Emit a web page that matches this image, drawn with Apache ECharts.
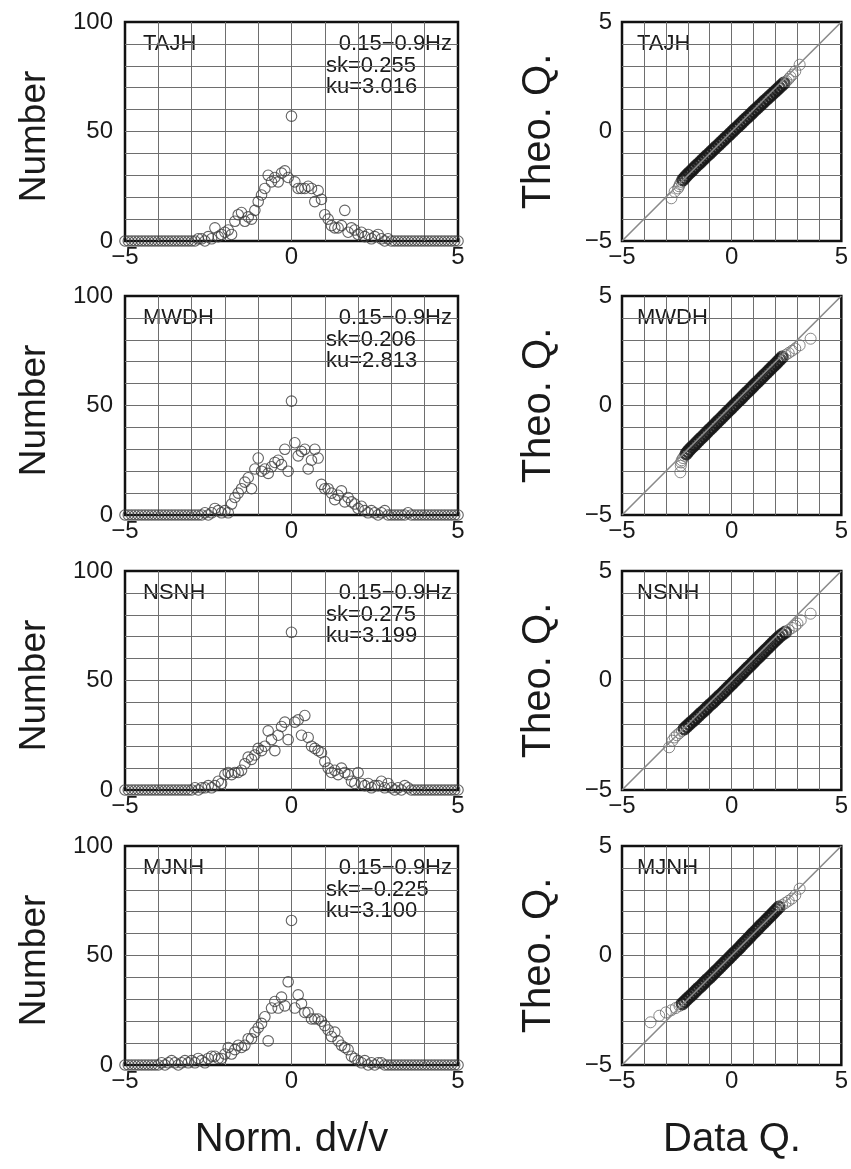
<!DOCTYPE html>
<html><head><meta charset="utf-8">
<script src="https://cdn.jsdelivr.net/npm/echarts@6/dist/echarts.min.js"></script>
<style>html,body{margin:0;padding:0;background:#fff}#c{width:851px;height:1169px}</style>
</head><body><div id="c"></div>
<script>
// ---------------- DATA ----------------
const stations = ['TAJH', 'MWDH', 'NSNH', 'MJNH'];
const bandText = '0.15\u22120.9Hz';
const skText = ['0.255', '0.206', '0.275', '\u22120.225'];
const kuText = ['3.016', '2.813', '3.199', '3.100'];

// histogram bin centres (Norm. dv/v)
const bins = [-5.0,-4.9,-4.8,-4.7,-4.6,-4.5,-4.4,-4.3,-4.2,-4.1,-4.0,-3.9,-3.8,-3.7,-3.6,-3.5,-3.4,-3.3,-3.2,-3.1,
  -3.0,-2.9,-2.8,-2.7,-2.6,-2.5,-2.4,-2.3,-2.2,-2.1,-2.0,-1.9,-1.8,-1.7,-1.6,-1.5,-1.4,-1.3,-1.2,-1.1,
  -1.0,-0.9,-0.8,-0.7,-0.6,-0.5,-0.4,-0.3,-0.2,-0.1,0.0,0.1,0.2,0.3,0.4,0.5,0.6,0.7,0.8,0.9,
  1.0,1.1,1.2,1.3,1.4,1.5,1.6,1.7,1.8,1.9,2.0,2.1,2.2,2.3,2.4,2.5,2.6,2.7,2.8,2.9,
  3.0,3.1,3.2,3.3,3.4,3.5,3.6,3.7,3.8,3.9,4.0,4.1,4.2,4.3,4.4,4.5,4.6,4.7,4.8,4.9,5.0];

const countsTAJH = [0,0,0,0,0,0,0,0,0,0,0,0,0,0,0,0,0,0,0,0,
  0,0,1,1,0,2,1,6,2,3, 4,5,3,9,12,13,9,11,10,14,
  18,21,24,30,27,29,27,31,32,29, 57,
  27,24,24,24,25,24,18,23,19,12, 10,7,6,6,7,14,4,6,5,3,
  4,2,3,1,2,3,1,0,1,0, 0,0,0,0,0,0,0,0,0,0,0,0,0,0,0,0,0,0,0,0];
const countsMWDH = [0,0,0,0,0,0,0,0,0,0,0,0,0,0,0,0,0,0,0,0,
  0,0,0,0,1,0,1,3,2,1, 2,1,5,8,10,12,15,17,12,21,
  26,20,21,19,22,24,25,23,30,20, 52,
  33,27,29,30,21,25,30,26,14,12, 12,10,7,9,11,6,8,6,5,3,
  4,2,1,2,1,0,1,2,0,0, 0,0,0,0,1,0,0,0,0,0,0,0,0,0,0,0,0,0,0,0];
const countsNSNH = [0,0,0,0,0,0,0,0,0,0,0,0,0,0,0,0,0,0,0,0,
  0,1,0,1,1,2,1,2,4,3, 7,8,7,8,8,9,12,15,14,16,
  19,18,20,27,23,18,25,29,31,23, 72,
  31,32,25,34,24,20,19,18,17,13, 10,8,9,7,10,8,7,4,3,8,
  3,2,3,1,2,2,4,1,3,1, 0,1,0,2,1,0,0,0,0,0,0,0,0,0,0,0,0,0,0,0];
const countsMJNH = [0,0,0,0,0,0,0,0,0,0,0,1,0,1,2,1,0,1,2,1,
  2,1,3,2,1,3,4,4,3,3, 5,8,5,7,9,8,9,12,12,15,
  17,19,22,11,26,29,26,31,27,38, 66,
  26,32,28,24,24,21,21,21,20,18, 16,13,15,11,9,8,7,4,3,2,
  1,2,0,1,0,1,1,0,0,0, 0,0,0,0,0,0,0,0,0,0,0,0,0,0,0,0,0,0,0,0];

// Q-Q plots: theoretical quantiles (y) and data quantiles (x)
const theoQ = [-3.05,-2.75,-2.6,-2.5,-2.4,-2.3,-2.2,-2.1,-2.0,-1.9,-1.8,-1.7,-1.6,-1.5,-1.4,-1.3,-1.2,-1.1,-1.0,-0.9,
  -0.8,-0.7,-0.6,-0.5,-0.4,-0.3,-0.2,-0.1,0.0,0.1,0.2,0.3,0.4,0.5,0.6,0.7,0.8,0.9,1.0,1.1,
  1.2,1.3,1.4,1.5,1.6,1.7,1.8,1.9,2.0,2.1,2.2,2.3,2.4,2.5,2.6,2.75,3.05];
const dataQTAJH = [-2.75,-2.6,-2.45, -2.4,-2.36,-2.3,-2.22,-2.13,-2.04,-1.94,-1.84,-1.74,-1.64,
  -1.53,-1.43,-1.33,-1.22,-1.12,-1.01,-0.91,-0.8,-0.7,-0.59, -0.49,-0.38,-0.28,-0.17,-0.07,0.04,0.14,0.25,0.35,0.46,
  0.56,0.67,0.77,0.88,0.98,1.09,1.19,1.3,1.41,1.51, 1.62,1.73,1.84,1.95,2.05,2.16,2.27,2.38,2.5,2.6, 2.68,2.78, 2.9,3.1];
const dataQMWDH = [-2.34,-2.32,-2.3, -2.28,-2.22,-2.15,-2.07,-1.99,-1.9,-1.8,-1.7,-1.6,-1.5,
  -1.4,-1.3,-1.2,-1.1,-1.0,-0.9,-0.8,-0.7,-0.6,-0.5, -0.4,-0.3,-0.2,-0.1,0.0,0.1,0.2,0.3,0.4,0.5,
  0.6,0.7,0.8,0.9,1.0,1.1,1.2,1.3,1.4,1.5, 1.6,1.7,1.8,1.9,2.0,2.1,2.2,2.3,2.45,2.6, 2.75,2.9, 3.1,3.6];
const dataQNSNH = [-2.85,-2.7,-2.6, -2.5,-2.38,-2.27,-2.16,-2.05,-1.94,-1.83,-1.72,-1.61,-1.5,
  -1.4,-1.29,-1.18,-1.08,-0.97,-0.86,-0.76,-0.65,-0.55,-0.44, -0.34,-0.24,-0.14,-0.04,0.06,0.16,0.26,0.36,0.46,0.56,
  0.66,0.76,0.86,0.96,1.06,1.16,1.26,1.36,1.46,1.56, 1.66,1.76,1.86,1.96,2.06,2.17,2.3,2.45,2.6,2.75, 2.9,3.0, 3.15,3.6];
const dataQMJNH = [-3.7,-3.3,-3.0, -2.75,-2.55,-2.38,-2.25,-2.14,-2.04,-1.93,-1.83,-1.72,-1.62,
  -1.52,-1.41,-1.31,-1.21,-1.11,-1.0,-0.9,-0.8,-0.7,-0.6, -0.5,-0.4,-0.3,-0.2,-0.1,0.0,0.1,0.2,0.3,0.4,
  0.49,0.59,0.68,0.78,0.88,0.97,1.07,1.17,1.26,1.36, 1.46,1.56,1.66,1.76,1.85,1.95,2.05,2.15,2.3,2.45, 2.6,2.75, 2.9,3.1];
const refLine = [-5, 5];

const histTicks = [0, 50, 100];
const qTicks = [-5, 0, 5];

const counts = [countsTAJH, countsMWDH, countsNSNH, countsMJNH];
const dataQ = [dataQTAJH, dataQMWDH, dataQNSNH, dataQMJNH];

// ---------------- LAYOUT ----------------
const FONT = '"Liberation Sans", Arial, Helvetica, sans-serif';
const tops = [22, 296, 571, 846];
const H = 219;
const LL = 125, LW = 333, RL = 622, RW = 220;
const TXT = '#1a1a1a';

function fmt(v) { return v < 0 ? '\u2212' + Math.abs(v) : String(v); }

const grid = [], xAxis = [], yAxis = [], series = [], graphic = [];

function axis(idx, min, max, interval, shown, margin) {
  return {
    type: 'value', gridIndex: idx, min: min, max: max, interval: interval,
    axisLine: { show: false }, axisTick: { show: false },
    splitLine: { show: true, showMinLine: false, showMaxLine: false, lineStyle: { color: '#6e6e6e', width: 1 } },
    axisLabel: { show: true, showMinLabel: true, showMaxLabel: true, margin: margin,
      fontSize: 24, fontFamily: FONT, color: TXT,
      formatter: function (v) { return shown.indexOf(v) >= 0 ? fmt(v) : ''; } }
  };
}

const coreStyle = { color: 'rgba(0,0,0,0)', borderColor: '#151515', borderWidth: 2.4 };
const tailStyle = { color: 'rgba(0,0,0,0)', borderColor: '#6a6a6a', borderWidth: 1 };

for (let p = 0; p < 4; p++) {
  const T = tops[p];
  const gi = p * 2, gq = p * 2 + 1;
  grid.push({ left: LL, top: T, width: LW, height: H, show: true, borderColor: '#111', borderWidth: 2.5, backgroundColor: 'transparent' });
  grid.push({ left: RL, top: T, width: RW, height: H, show: true, borderColor: '#111', borderWidth: 2.5, backgroundColor: 'transparent' });
  xAxis.push(axis(gi, -5, 5, 1, qTicks, 4));
  yAxis.push(axis(gi, 0, 100, 10, histTicks, 12));
  xAxis.push(axis(gq, -5, 5, 1, qTicks, 4));
  yAxis.push(axis(gq, -5, 5, 1, qTicks, 10));

  series.push({
    type: 'scatter', xAxisIndex: gi, yAxisIndex: gi, clip: false, silent: true,
    symbol: 'circle', symbolSize: 10.5,
    itemStyle: { color: 'rgba(0,0,0,0)', borderColor: '#3c3c3c', borderWidth: 1.1 },
    data: bins.map((x, i) => [x, counts[p][i]])
  });
  series.push({
    type: 'line', xAxisIndex: gq, yAxisIndex: gq, silent: true, symbol: 'none',
    lineStyle: { color: '#8a8a8a', width: 1.6 },
    data: refLine.map(v => [v, v])
  });
  series.push({
    type: 'scatter', xAxisIndex: gq, yAxisIndex: gq, clip: false, silent: true,
    symbol: 'circle', symbolSize: 11,
    data: dataQ[p].map((x, i) => ({
      value: [x, theoQ[i]],
      itemStyle: Math.abs(theoQ[i]) <= 2.2 ? coreStyle : tailStyle
    }))
  });

  const tf = '22px ' + FONT;
  graphic.push({ type: 'text', x: 143, y: T + 22, style: { text: stations[p], font: tf, fill: TXT, textAlign: 'left', textVerticalAlign: 'middle' } });
  graphic.push({ type: 'text', x: 452, y: T + 22, style: { text: bandText, font: tf, fill: TXT, textAlign: 'right', textVerticalAlign: 'middle' } });
  graphic.push({ type: 'text', x: 326, y: T + 44, style: { text: 'sk=' + skText[p], font: tf, fill: TXT, textAlign: 'left', textVerticalAlign: 'middle' } });
  graphic.push({ type: 'text', x: 326, y: T + 65, style: { text: 'ku=' + kuText[p], font: tf, fill: TXT, textAlign: 'left', textVerticalAlign: 'middle' } });
  graphic.push({ type: 'text', x: 637, y: T + 22, style: { text: stations[p], font: tf, fill: TXT, textAlign: 'left', textVerticalAlign: 'middle' } });

  graphic.push({ type: 'text', x: 35, y: T + H / 2 + 5, rotation: Math.PI / 2, style: { text: 'Number', font: '37px ' + FONT, fill: TXT, textAlign: 'center', textVerticalAlign: 'middle' } });
  graphic.push({ type: 'text', x: 539, y: T + H / 2, rotation: Math.PI / 2, style: { text: 'Theo. Q.', font: '40px ' + FONT, fill: TXT, textAlign: 'center', textVerticalAlign: 'middle' } });
}
graphic.push({ type: 'text', x: LL + LW / 2, y: 1140, style: { text: 'Norm. dv/v', font: '40px ' + FONT, fill: TXT, textAlign: 'center', textVerticalAlign: 'middle' } });
graphic.push({ type: 'text', x: RL + RW / 2, y: 1140, style: { text: 'Data Q.', font: '40px ' + FONT, fill: TXT, textAlign: 'center', textVerticalAlign: 'middle' } });

const chart = echarts.init(document.getElementById('c'), null, { renderer: 'canvas' });
chart.setOption({
  animation: false,
  backgroundColor: '#fff',
  grid: grid, xAxis: xAxis, yAxis: yAxis, series: series, graphic: graphic
});
</script>
</body></html>
